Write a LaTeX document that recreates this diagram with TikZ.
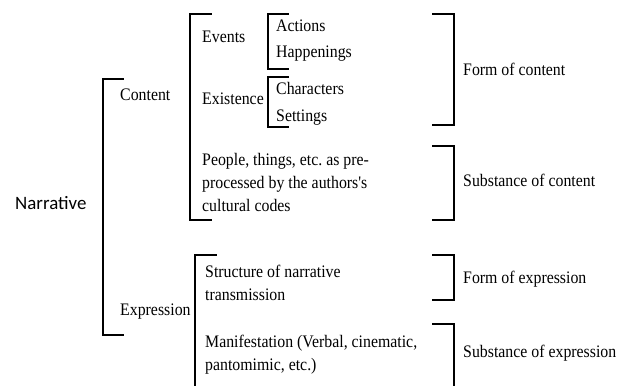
\documentclass[tikz,border=0pt]{standalone}
\usepackage{fontspec}
\newfontfamily\tnr{Liberation Serif}[FakeStretch=0.9]
\newfontfamily\labelsans{Carlito}
\frenchspacing
\begin{document}
\begin{tikzpicture}[x=1pt,y=-1pt,
  lbl/.style={anchor=base west, inner sep=0pt, font=\tnr\fontsize{17.6}{23}\selectfont},
  multi/.style={anchor=north west, inner sep=0pt, align=left, font=\tnr\fontsize{17.6}{23}\selectfont},
  brk/.style={line width=1.8pt, line cap=rect}]
\useasboundingbox (0,0) rectangle (617,385);
% texts
\node[anchor=base west, inner sep=0pt, font=\labelsans\fontsize{18.9}{22}\selectfont] (narr) at (15,209) {Narrative};
\node[lbl] (content) at (120,100) {Content};
\node[lbl] (expression) at (120,315) {Expression};
\node[lbl] (events) at (202,43) {Events};
\node[lbl] (existence) at (202,104) {Existence};
\node[lbl] (actions) at (276,32) {Actions};
\node[lbl] (happen) at (276,58) {Happenings};
\node[lbl] (chars) at (276,95) {Characters};
\node[lbl] (settings) at (276,121) {Settings};
\node[multi] (people) at (202,153) {People, things, etc. as pre-\\processed by the authors's\\cultural codes};
\node[multi] (structure) at (205,264.5) {Structure of narrative\\transmission};
\node[multi] (manif) at (205,334.5) {Manifestation (Verbal, cinematic,\\pantomimic, etc.)};
\node[lbl] (foc) at (463,76) {Form of content};
\node[lbl] (soc) at (463,186) {Substance of content};
\node[lbl] (foe) at (463,283) {Form of expression};
\node[lbl] (soe) at (463,357) {Substance of expression};
% left brackets
\draw[brk] (123,79) -- (103,79) -- (103,335) -- (123,335);
\draw[brk] (211,14) -- (190,14) -- (190,220) -- (211,220);
\draw[brk] (288,14) -- (268,14) -- (268,69) -- (288,69);
\draw[brk] (288,77) -- (268,77) -- (268,127) -- (288,127);
\draw[brk] (216,255) -- (195,255) -- (195,386);
% right brackets
\draw[brk] (433,14) -- (454,14) -- (454,125) -- (433,125);
\draw[brk] (433,146) -- (454,146) -- (454,220) -- (433,220);
\draw[brk] (433,255) -- (454,255) -- (454,300) -- (433,300);
\draw[brk] (433,324) -- (454,324) -- (454,386);
\end{tikzpicture}
\end{document}
